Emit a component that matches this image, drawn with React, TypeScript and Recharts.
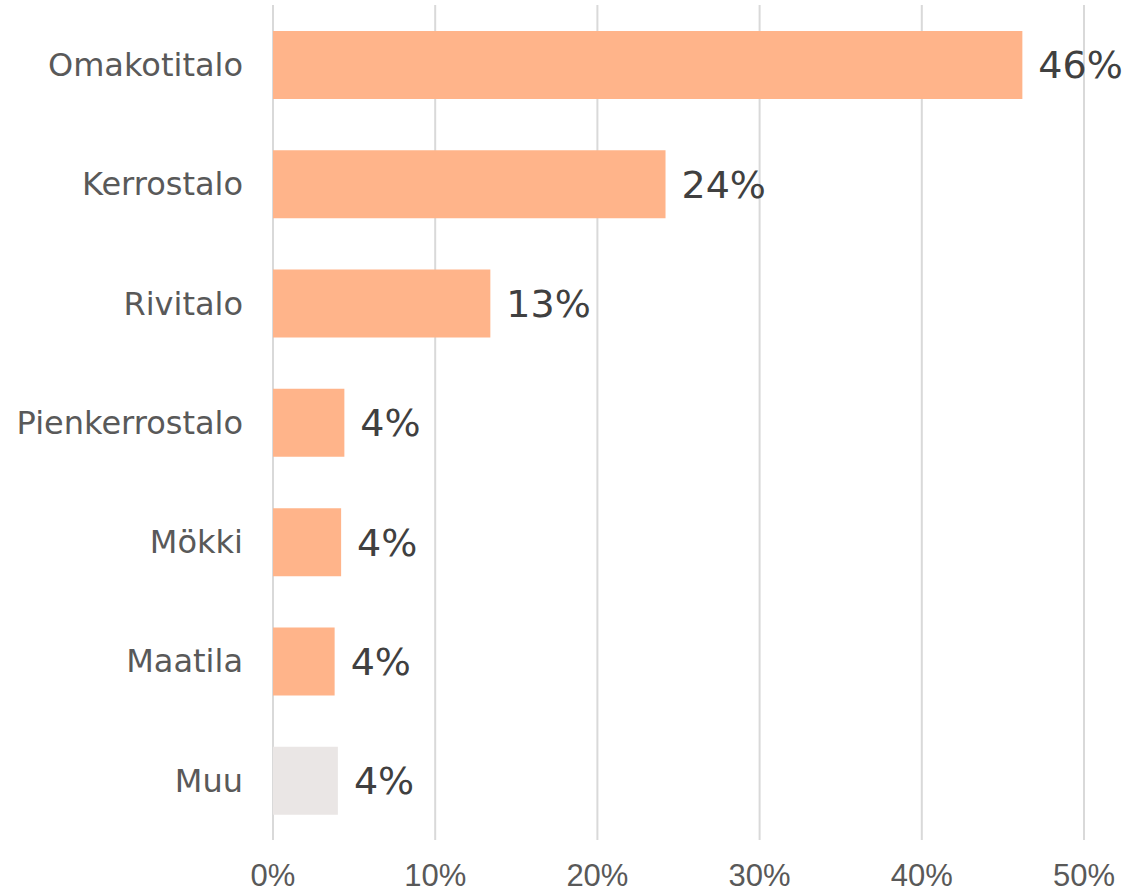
import { BarChart, Bar, XAxis, YAxis, CartesianGrid, Cell, LabelList } from "recharts"

const categories = ["Omakotitalo", "Kerrostalo", "Rivitalo", "Pienkerrostalo", "Mökki", "Maatila", "Muu"]
const shares = [46.2, 24.2, 13.4, 4.4, 4.2, 3.8, 4.0]
const barColors = ["#FFB48A", "#FFB48A", "#FFB48A", "#FFB48A", "#FFB48A", "#FFB48A", "#EAE6E5"]
const xTicks = [0, 10, 20, 30, 40, 50]

const data = categories.map((name, i) => ({ name, value: shares[i] }))

export default function App() {
  return (
    <div style={{ position: "absolute", left: 0, top: 0, background: "#fff" }}>
      <BarChart
        width={1128}
        height={895}
        data={data}
        layout="vertical"
        margin={{ top: 5, right: 44, bottom: 0, left: 0 }}
        barSize={68}
      >
        <CartesianGrid horizontal={false} stroke="#D9D9D9" strokeWidth={2} />
        <XAxis
          type="number"
          domain={[0, 50]}
          ticks={xTicks}
          tickFormatter={(v) => `${v}%`}
          axisLine={false}
          tickLine={false}
          height={55}
          tickMargin={18}
          tick={{ fill: "#595959", fontSize: 31, fontFamily: "Liberation Sans, Arial, sans-serif" }}
        />
        <YAxis
          type="category"
          dataKey="name"
          width={273}
          axisLine={false}
          tickLine={false}
          tickMargin={24}
          tick={{ fill: "#595959", fontSize: 32, fontFamily: "DejaVu Sans, Verdana, sans-serif" }}
        />
        <Bar dataKey="value" isAnimationActive={false}>
          {data.map((d, i) => (
            <Cell key={d.name} fill={barColors[i]} />
          ))}
          <LabelList
            dataKey="value"
            position="right"
            offset={16}
            formatter={(v: any) => `${Math.round(Number(v))}%`}
            style={{ fill: "#404040", fontSize: 38, fontFamily: "DejaVu Sans, Verdana, sans-serif" }}
          />
        </Bar>
      </BarChart>
    </div>
  )
}
